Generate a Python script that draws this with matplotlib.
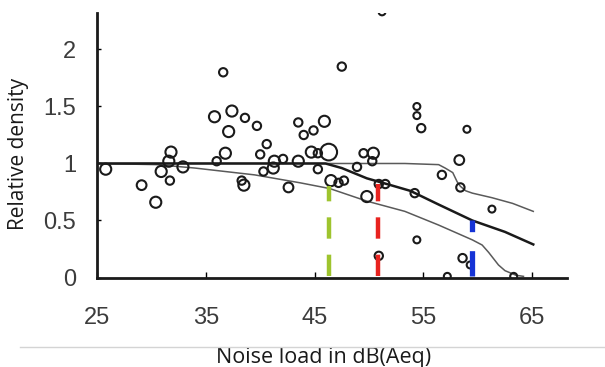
import matplotlib
matplotlib.use("Agg")
import matplotlib.pyplot as plt
from matplotlib.lines import Line2D

# scattered study sites: noise load (dB Aeq) vs relative density
site_x = [25.8, 29.1, 30.4, 30.9, 31.6, 31.8, 31.7, 32.9, 36.0, 36.8,
          35.8, 37.4, 38.6, 37.1, 36.6, 38.3, 38.5, 39.7, 40.6, 40.0,
          40.3, 41.3, 41.2, 42.1, 42.6, 43.5, 43.5, 44.0, 44.9, 45.9,
          44.7, 45.3, 46.3, 45.3, 47.5, 48.9, 49.5, 50.4, 50.3, 46.5,
          47.2, 47.7, 49.8, 50.9, 51.5, 50.9, 51.2, 54.4, 54.4, 54.8,
          59.0, 58.3, 56.7, 58.4, 61.3, 54.2, 54.4, 58.6, 59.3, 57.2,
          63.3]
site_y = [0.95, 0.81, 0.66, 0.93, 1.02, 1.10, 0.85, 0.97, 1.02, 1.09,
          1.41, 1.46, 1.40, 1.28, 1.80, 0.85, 0.81, 1.33, 1.17, 1.08,
          0.93, 1.02, 0.96, 1.04, 0.79, 1.36, 1.02, 1.25, 1.29, 1.37,
          1.10, 1.09, 1.10, 0.95, 1.85, 0.97, 1.09, 1.09, 1.02, 0.85,
          0.83, 0.85, 0.71, 0.82, 0.82, 0.19, 2.33, 1.50, 1.42, 1.31,
          1.30, 1.03, 0.90, 0.79, 0.60, 0.74, 0.33, 0.17, 0.11, 0.01,
          0.01]
# ring diameters (points)
ring_size = [8, 7, 8, 8, 8, 8, 6, 8, 6, 8,
             8, 8, 6, 8, 6, 6, 8, 6, 6, 6,
             6, 8, 8, 6, 7, 6, 8, 6, 6, 8,
             8, 6, 12, 6, 6, 6, 6, 8, 6, 8,
             6, 6, 8, 6, 6, 6, 5, 5, 5, 6,
             5, 7, 6, 6, 5, 6, 5, 6, 5, 5,
             5]

# fitted curve (thick) and the two envelope curves (thin)
fit_x = [25, 46, 47.5, 49.8, 52.0, 53.8, 56.4, 59.5, 62.5, 65.1]
fit_y = [1.0, 1.0, 0.96, 0.87, 0.81, 0.76, 0.64, 0.50, 0.40, 0.29]
upper_x = [25, 53.3, 56.4, 57.0, 57.7, 58.1, 58.4, 58.9, 59.5, 61.3, 63.2, 65.1]
upper_y = [1.0, 1.0, 0.99, 0.96, 0.92, 0.84, 0.80, 0.76, 0.74, 0.70, 0.65, 0.58]
lower_x = [25, 30.5, 34.0, 39.5, 43.7, 46.4, 49.8, 53.3, 56.4, 59.5, 60.4,
           61.0, 61.9, 62.5, 63.5, 64.2]
lower_y = [1.0, 0.99, 0.96, 0.90, 0.83, 0.78, 0.67, 0.58, 0.46, 0.33, 0.285,
           0.22, 0.11, 0.06, 0.02, 0.01]

# coloured threshold markers
mark_x = [46.3, 50.8, 59.5]
mark_top = [0.80, 0.82, 0.50]
mark_col = ["#9ec42e", "#e8231f", "#1533d6"]

xticks = [25, 35, 45, 55, 65]
yticks = [0, 0.5, 1, 1.5, 2]
ytick_labels = ["0", "0.5", "1", "1.5", "2"]

fig = plt.figure(figsize=(6.05, 3.67), dpi=100)
ax = fig.add_axes([97 / 605, 1 - 277.5 / 367, 470 / 605, 264.5 / 367])

ax.plot(upper_x, upper_y, color="#5a5a5a", lw=1.1)
ax.plot(lower_x, lower_y, color="#5a5a5a", lw=1.1)
ax.plot(fit_x, fit_y, color="#1a1a1a", lw=1.8)

ax.scatter(site_x, site_y, s=[d ** 2 for d in ring_size], facecolors="none",
           edgecolors="#1a1a1a", linewidths=1.5, zorder=3)

for x, top, c in zip(mark_x, mark_top, mark_col):
    ax.vlines(x, 0.01, top, colors=c, lw=3.2 if c != "#1533d6" else 3.8,
              linestyles=[(0, (4.8, 3.6))], capstyle="butt", zorder=4)

ax.set_xlim(25, 68.2)
ax.set_ylim(0, 2.32)
ax.set_xticks(xticks)
ax.set_yticks(yticks)
ax.set_yticklabels(ytick_labels)

for s in ["top", "right"]:
    ax.spines[s].set_visible(False)
for s in ["left", "bottom"]:
    ax.spines[s].set_linewidth(2)
    ax.spines[s].set_color("#1a1a1a")

tick_font = ["Liberation Sans Narrow", "Liberation Sans"]
ax.tick_params(axis="x", direction="in", length=4, width=1, pad=21,
               labelsize=17, labelcolor="#3c3c3c")
ax.tick_params(axis="y", direction="in", length=3, width=1, pad=15,
               labelsize=17, labelcolor="#3c3c3c")
for lab in ax.get_xticklabels() + ax.get_yticklabels():
    lab.set_fontfamily(tick_font)

ax.set_xlabel("Noise load in dB(Aeq)", fontsize=15.5, fontfamily="Open Sans",
              color="#1a1a1a")
ax.xaxis.set_label_coords(0.481, -0.262)
ax.set_ylabel("Relative density", fontsize=15, fontfamily="Open Sans",
              color="#1a1a1a")
ax.yaxis.set_label_coords(-0.145, 0.467)

fig.add_artist(Line2D([20 / 605, 1.0], [1 - 347 / 367] * 2,
                      color="#d4d4d4", lw=1))

fig.savefig("out.png", dpi=100)
